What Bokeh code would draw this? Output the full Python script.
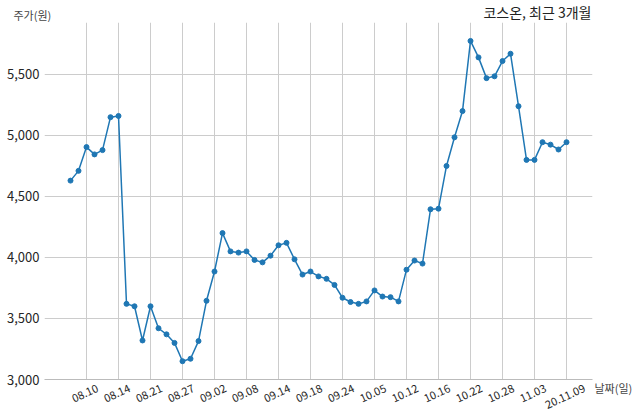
import math
from bokeh.plotting import figure
from bokeh.layouts import column
from bokeh.models import Range1d, FixedTicker, Label, NumeralTickFormatter
from bokeh.embed import file_html
from bokeh.resources import INLINE

# trading days (index positions on the x axis)
dates = [
    "08.06", "08.07", "08.10", "08.11", "08.12", "08.13", "08.14", "08.18", "08.19", "08.20",
    "08.21", "08.24", "08.25", "08.26", "08.27", "08.28", "08.31", "09.01", "09.02", "09.03",
    "09.04", "09.07", "09.08", "09.09", "09.10", "09.11", "09.14", "09.15", "09.16", "09.17",
    "09.18", "09.21", "09.22", "09.23", "09.24", "09.25", "09.28", "09.29", "10.05", "10.06",
    "10.07", "10.08", "10.12", "10.13", "10.14", "10.15", "10.16", "10.19", "10.20", "10.21",
    "10.22", "10.23", "10.26", "10.27", "10.28", "10.29", "10.30", "11.02", "11.03", "11.04",
    "11.05", "11.06", "20.11.09",
]

prices = [
    4630, 4710, 4905, 4845, 4880, 5150, 5160, 3620, 3600, 3320,
    3600, 3420, 3370, 3300, 3150, 3170, 3315, 3645, 3885, 4200,
    4050, 4040, 4050, 3980, 3960, 4015, 4100, 4120, 3985, 3860,
    3885, 3845, 3825, 3775, 3670, 3635, 3620, 3640, 3730, 3680,
    3675, 3640, 3900, 3975, 3950, 4395, 4400, 4750, 4985, 5200,
    5775, 5640, 5470, 5485, 5610, 5670, 5240, 4800, 4800, 4945,
    4925, 4885, 4945,
]

y_ticks = [3000, 3500, 4000, 4500, 5000, 5500]
tick_start = 2
tick_step = 4

title_text = "코스온, 최근 3개월"
y_label = "주가(원)"
x_label = "날짜(일)"

FONT = "Noto Sans CJK KR"
W = 640
HEAD = 22          # height of the strip holding the title
H = 419 - HEAD     # height of the chart itself
BL, BR = 44, 48    # left / right borders (frame spans 44..592)

x = list(range(len(prices)))
x_ticks = x[tick_start::tick_step]

x0, x1 = -3.25, len(prices) - 1 + 3.25
y0, y1 = 3000, 5926

# ---- header strip (title + y axis caption) ----
head = figure(width=W, height=HEAD, output_backend="svg", toolbar_location=None,
              x_range=Range1d(0, W - BL - BR), y_range=Range1d(0, HEAD),
              x_axis_type=None, y_axis_type=None,
              min_border_left=BL, min_border_right=BR, min_border_top=0, min_border_bottom=0)
head.outline_line_color = None
head.xgrid.visible = False
head.ygrid.visible = False
head.add_layout(Label(x=W - BL - BR - 1, y=11, x_units="screen", y_units="screen",
                      text=title_text, text_align="right",
                      text_baseline="alphabetic", text_font=FONT,
                      text_font_size="14px", text_color="#222222"))
head.add_layout(Label(x=7, y=8, x_units="screen", y_units="screen",
                      text=y_label, text_align="left",
                      text_baseline="alphabetic", text_font=FONT,
                      text_font_size="11px", text_color="#444444"), "left")

# ---- main chart ----
p = figure(width=W, height=H, output_backend="svg", toolbar_location=None,
           x_range=Range1d(x0, x1), y_range=Range1d(y0, y1),
           min_border_left=BL, min_border_right=BR, min_border_top=0, min_border_bottom=40)
p.outline_line_color = None
p.background_fill_color = "white"
p.border_fill_color = "white"

p.xgrid.grid_line_color = "#cccccc"
p.ygrid.grid_line_color = "#cccccc"
p.xgrid.ticker = FixedTicker(ticks=x_ticks)
p.ygrid.ticker = FixedTicker(ticks=y_ticks)

# rotated labels are anchored at their right end; shift the label anchor so that
# each label is centred under its grid line (shift in pixels / 8 px per index)
px_per_unit = 8.0
label_pos = []
overrides = {}
for i in x_ticks:
    lab = dates[i]
    shift = round(2.33 * len(lab) - 0.67) / px_per_unit
    pos = i + shift
    label_pos.append(pos)
    overrides[pos] = lab

xa = p.xaxis[0]
xa.ticker = FixedTicker(ticks=label_pos)
xa.major_label_overrides = overrides
xa.major_label_orientation = math.radians(25)
xa.axis_line_color = "#bbbbbb"
xa.major_tick_line_color = None
xa.minor_tick_line_color = None
xa.major_tick_out = 0
xa.major_tick_in = 0
xa.minor_tick_out = 0
xa.major_label_text_font = FONT
xa.major_label_text_font_size = "11px"
xa.major_label_text_color = "#262626"
xa.major_label_standoff = 8

ya = p.yaxis[0]
ya.ticker = FixedTicker(ticks=y_ticks)
ya.formatter = NumeralTickFormatter(format="0,0")
ya.axis_line_color = None
ya.major_tick_line_color = None
ya.minor_tick_line_color = None
ya.major_tick_out = 0
ya.major_tick_in = 0
ya.minor_tick_out = 0
ya.major_label_text_font = FONT
ya.major_label_text_font_size = "13px"
ya.major_label_text_color = "#262626"
ya.major_label_standoff = 5

p.line(x, prices, line_color="#1f77b4", line_width=1.5)
p.scatter(x, prices, size=5, fill_color="#1f77b4", line_color="#1f77b4")

p.add_layout(Label(x=2, y=-8, x_units="screen", y_units="screen", text=x_label,
                   text_align="left", text_baseline="alphabetic",
                   text_font=FONT, text_font_size="11px", text_color="#444444"), "right")

layout = column(head, p, spacing=0)
open("out.html", "w").write(file_html(layout, INLINE))
